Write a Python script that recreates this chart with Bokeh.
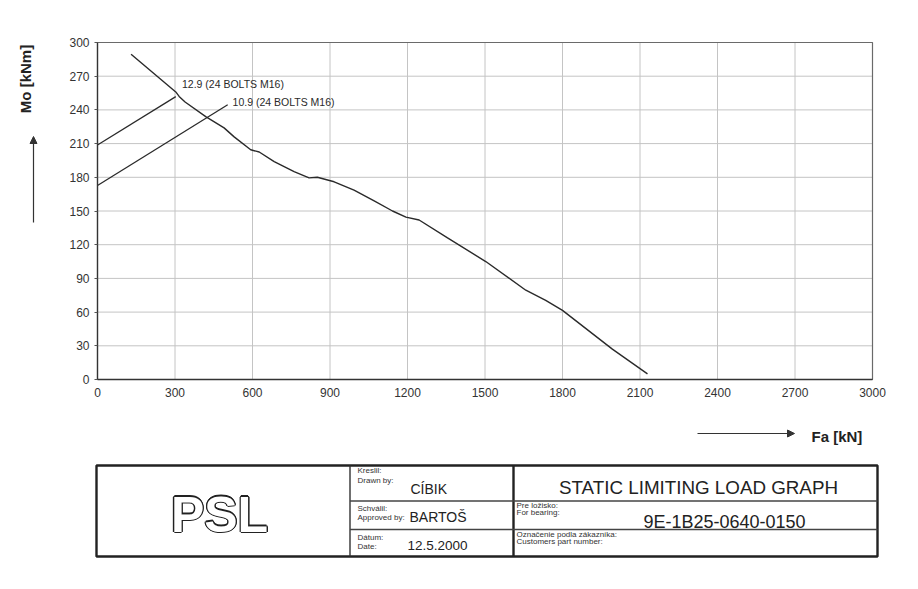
import math
from bokeh.plotting import figure
from bokeh.models import Range1d, Arrow, NormalHead, FixedTicker, LinearAxis
from bokeh.embed import file_html
from bokeh.resources import INLINE
from bokeh.core.properties import value

# ---- data ----
fa_values = [130, 303, 316, 339, 419, 490, 529, 593, 626, 684, 761, 819, 851, 916,
             993, 1071, 1142, 1194, 1245, 1355, 1503, 1658, 1735, 1800, 1993, 2129]
mo_values = [289.5, 256, 252, 247, 234, 224, 216, 204.5, 202.5, 194, 185, 179.5, 180, 176,
             168.5, 159, 150, 144.5, 142, 126, 105, 79.5, 70.5, 61.5, 27, 5]
bolt129_fa = [0, 303]
bolt129_mo = [208.7, 251.8]
bolt109_fa = [0, 504]
bolt109_mo = [172.7, 244.6]
bolt_labels = ["12.9 (24 BOLTS M16)", "10.9 (24 BOLTS M16)"]
bolt_label_fa = [327, 523]
bolt_label_mo = [263, 246.7]
x_ticks = [0, 300, 600, 900, 1200, 1500, 1800, 2100, 2400, 2700, 3000]
y_ticks = [0, 30, 60, 90, 120, 150, 180, 210, 240, 270, 300]
x_label = "Fa [kN]"
y_label = "Mo [kNm]"

FONT = "Liberation Sans"
W, H = 902, 573

# helpers: canvas pixel -> data units
def X(px):
    return (px - 97) * 3000 / 775

def Y(py):
    return (379 - py) * 300 / 337

p = figure(width=W, height=H, output_backend="svg", toolbar_location=None,
           x_range=Range1d(X(0), X(W)), y_range=Range1d(Y(H), Y(0)),
           x_axis_location=None, y_axis_location=None,
           min_border=0, min_border_left=0, min_border_right=0,
           min_border_top=0, min_border_bottom=0)
p.outline_line_color = None
p.background_fill_color = "white"
p.border_fill_color = "white"
for g in p.grid:
    g.visible = False

# grid lines of the chart area
p.segment(x0=x_ticks, y0=[0] * len(x_ticks), x1=x_ticks, y1=[300] * len(x_ticks),
          line_color="#c4c4c4", line_width=1)
p.segment(x0=[0] * len(y_ticks), y0=y_ticks, x1=[3000] * len(y_ticks), y1=y_ticks,
          line_color="#c4c4c4", line_width=1)
# chart border
p.quad(left=[0], right=[3000], bottom=[0], top=[300], fill_color=None,
       line_color="#6a6a6a", line_width=1.2)

xax = LinearAxis(fixed_location=0, bounds=(0, 3000), ticker=FixedTicker(ticks=x_ticks))
yax = LinearAxis(fixed_location=0, bounds=(0, 300), ticker=FixedTicker(ticks=y_ticks))
for ax in (xax, yax):
    ax.axis_line_color = "#333333"
    ax.axis_line_width = 1.3
    ax.major_label_text_font = FONT
    ax.major_label_text_font_size = "12px"
    ax.major_label_text_color = "#333333"
    ax.minor_tick_line_color = None
    ax.major_tick_line_color = "#555555"
xax.major_tick_out = 0
xax.major_tick_in = 0
xax.major_label_standoff = 8
yax.major_tick_out = 3
yax.major_tick_in = 0
yax.major_label_standoff = 5
p.add_layout(xax, "below")
p.add_layout(yax, "left")

# curves
p.line(bolt129_fa, bolt129_mo, line_color="#2a2a2a", line_width=1.3)
p.line(bolt109_fa, bolt109_mo, line_color="#2a2a2a", line_width=1.3)
p.line(fa_values, mo_values, line_color="#2a2a2a", line_width=1.4)
p.text(x=bolt_label_fa, y=bolt_label_mo, text=bolt_labels, text_font=value(FONT),
       text_font_size="10.5px", text_color="#2a2a2a", text_baseline="middle", text_align="left")

# axis titles and arrows
p.text(x=[X(25)], y=[Y(78.5)], text=[y_label], angle=math.pi / 2, text_font=value(FONT),
       text_font_size="15px", text_font_style="bold", text_color="#222222",
       text_align="center", text_baseline="middle")
p.add_layout(Arrow(end=NormalHead(size=7, fill_color="#333333", line_color="#333333"),
                   x_start=X(33), y_start=Y(222), x_end=X(33), y_end=Y(136),
                   line_color="#333333", line_width=1.2))
p.add_layout(Arrow(end=NormalHead(size=7, fill_color="#333333", line_color="#333333"),
                   x_start=X(697), y_start=Y(433), x_end=X(794), y_end=Y(433),
                   line_color="#333333", line_width=1.2))
p.text(x=[X(811)], y=[Y(436)], text=[x_label], text_font=value(FONT),
       text_font_size="15px", text_font_style="bold", text_color="#222222",
       text_align="left", text_baseline="middle")

# ---- title block ----
L, R, T, B = 96, 877, 465, 556
V1, V2 = 349.5, 513
H1, H2 = 500.5, 529

p.quad(left=[X(L)], right=[X(R)], top=[Y(T)], bottom=[Y(B)],
       fill_color=None, line_color="#222222", line_width=2.4)
p.segment(x0=[X(V1)], y0=[Y(T)], x1=[X(V1)], y1=[Y(B)], line_color="#333333", line_width=1.4)
p.segment(x0=[X(V2)], y0=[Y(T)], x1=[X(V2)], y1=[Y(B)], line_color="#222222", line_width=2.4)
p.segment(x0=[X(V1), X(V1)], y0=[Y(H1), Y(H2)], x1=[X(R), X(R)], y1=[Y(H1), Y(H2)],
          line_color="#444444", line_width=1.3)

# PSL logo: thick dark outline (offset copies) with white fill on top
logo = dict(text_font=value(FONT), text_font_size="50px", text_font_style="bold",
            text_align="center", text_baseline="middle")
cx, cy = 219, 514
offs = [(-1.3, 0), (1.3, 0), (0, -1.3), (0, 1.3), (-0.95, -0.95), (0.95, 0.95),
        (-0.95, 0.95), (0.95, -0.95)]
p.text(x=[X(cx + dx) for dx, dy in offs], y=[Y(cy + dy) for dx, dy in offs],
       text=["PSL"] * len(offs), text_color="#222222", **logo)
p.text(x=[X(cx)], y=[Y(cy)], text=["PSL"], text_color="white", **logo)

small = dict(text_font=value(FONT), text_font_size="8px", text_color="#333333",
             text_align="left", text_baseline="middle")
p.text(x=[X(357)] * 6, y=[Y(470), Y(479.5), Y(508), Y(516.5), Y(537), Y(545.5)],
       text=["Kreslil:", "Drawn by:", "Schválil:", "Approved by:", "Dátum:", "Date:"], **small)
p.text(x=[X(516)] * 4, y=[Y(504.5), Y(512), Y(534), Y(541)],
       text=["Pre ložisko:", "For bearing:", "Označenie podla zákazníka:", "Customers part number:"],
       **small)

mid = dict(text_font=value(FONT), text_font_size="14px", text_color="#222222",
           text_align="left", text_baseline="middle")
p.text(x=[X(410), X(409)], y=[Y(488), Y(516)], text=["CÍBIK", "BARTOŠ"], **mid)
p.text(x=[X(407)], y=[Y(545)], text=["12.5.2000"], text_font=value(FONT),
       text_font_size="13.5px", text_color="#222222", text_align="left", text_baseline="middle")

p.text(x=[X(698)], y=[Y(487)], text=["STATIC LIMITING LOAD GRAPH"], text_font=value(FONT),
       text_font_size="18.8px", text_color="#222222", text_align="center", text_baseline="middle")
p.text(x=[X(724)], y=[Y(521.5)], text=["9E-1B25-0640-0150"], text_font=value(FONT),
       text_font_size="18px", text_color="#222222", text_align="center", text_baseline="middle")

open("out.html", "w").write(file_html(p, INLINE))
